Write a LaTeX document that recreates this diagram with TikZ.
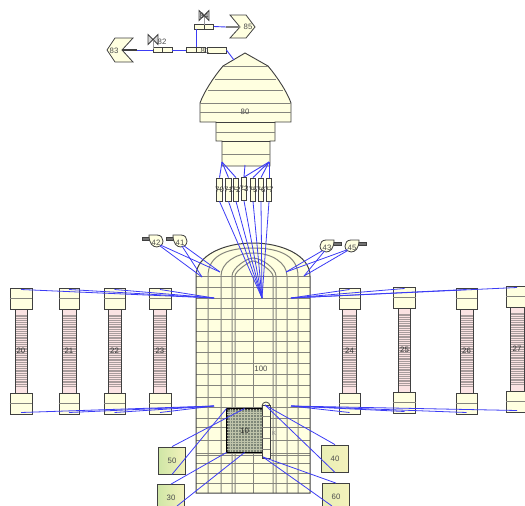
\documentclass[tikz,border=0pt]{standalone}
\usepackage{fontspec}
\setmainfont{Liberation Sans}
\usepackage{xcolor}
\usepackage{tikz}
\usetikzlibrary{arrows.meta,shapes,patterns}
\definecolor{cream}{HTML}{FFFFE0}
\definecolor{wire}{HTML}{3C3CF5}
\definecolor{edge}{HTML}{404040}
\definecolor{mesh}{HTML}{85857D}
\definecolor{tubepink}{HTML}{FBE3E3}
\definecolor{tubeline}{HTML}{A89C9C}
\definecolor{coregrey}{HTML}{7F8878}
\definecolor{coreline}{HTML}{BFC4AA}
\definecolor{leafa}{HTML}{CFE6A6}
\definecolor{leafb}{HTML}{F4F2BC}
\tikzset{
lbl/.style={font=\fontsize{7.8}{8}\selectfont,text=black!70,inner sep=0pt},
part/.style={draw=edge,fill=cream,line width=.8pt,inner sep=0pt},
pipe/.style={part,minimum width=19pt,minimum height=5pt},
gas/.style={draw=wire,line width=.9pt},
fine/.style={draw=wire,line width=.8pt},
feed/.style={part,left color=leafa,right color=leafb,minimum width=27pt,minimum height=27pt}
}
\begin{document}
\begin{tikzpicture}[x=1pt,y=-1pt,>=stealth]
\useasboundingbox(0,0)rectangle(525,506);
\clip(0,0)rectangle(525,506);
\path[fill=cream](196,493)--(196,276)..controls(196,255)and(225,243)..(253,243)..controls(281,243)and(310,255)..(310,276)--(310,493)--cycle;
\foreach \y in {276,287,298,308,319,331,341,352,363,374,385,397,407,418,427,440,453,455,463,473,483}
\draw[mesh,line width=1pt](196,\y)--(310,\y);
\foreach \x in {253}
\draw[mesh,line width=1pt](\x,276)--(\x,493);
\foreach \xa/\xb/\yt in {208/298/248,221/287/253,232/276/258,235/273/261}{
\draw[mesh,line width=1pt](\xa,493)--(\xa,276)..controls(\xa,\yt+10)and(\xa+15,\yt)..(253,\yt)..controls(\xb-15,\yt)and(\xb,\yt+10)..(\xb,276)--(\xb,493);
}
\draw[edge,line width=1pt](196,493)--(196,276)..controls(196,255)and(225,243)..(253,243)..controls(281,243)and(310,255)..(310,276)--(310,493)--cycle;
\node[lbl](n100)at(261,369){100};

\node[part,fill=coregrey,minimum width=35pt,minimum height=43pt,line width=1pt](core)at(244.5,430.5){};
\foreach \k in {1,...,11}
\draw[coreline,line width=.7pt](227+2.9*\k,409)--(227+2.9*\k,452);
\foreach \k in {1,...,14}
\draw[coreline,line width=.7pt](227,409+2.9*\k)--(262,409+2.9*\k);
\draw[black,line width=1pt](core.north west)rectangle(core.south east);
\node[lbl,text=black!85](n10)at(core.center){10};
\draw[part](266,406)circle(4pt);
\node[part,minimum width=8pt,minimum height=53pt](rod)at(266,431.5){};
\foreach \y in {416,427,438,449}
\draw[mesh](262,\y)--(270,\y);
\node[lbl,font=\fontsize{6}{6}\selectfont,text=black!50](nk)at(274,433){K};

\node[feed](b50)at(172,460.5){};\node[lbl]at(b50){50};
\node[feed](b30)at(171,498){};\node[lbl]at(b30){30};
\node[feed,left color=leafb!70!leafa,right color=leafb](b40)at(335,458.5){};\node[lbl]at(b40){40};
\node[feed,left color=leafb!70!leafa,right color=leafb](b60)at(336,497){};\node[lbl]at(b60){60};

\foreach \n/\x/\t/\w/\r in {20/21/288/22/12,21/69/288/20/14,22/114.5/288/21/13,23/160/288/22/13,24/349.5/288/21/14,25/404.5/287/22/12,26/466.5/288/21/13,27/517/286/21/14}{
\pgfmathsetmacro{\ya}{\t+21}
\pgfmathsetmacro{\yb}{\t+105}
\pgfmathsetmacro{\ym}{\t+63}
\pgfmathsetmacro{\yc}{\t+115.5}
\pgfmathsetmacro{\yd}{\t+10.5}
\draw[edge,fill=tubepink,line width=.8pt](\x-\r/2,\ya)rectangle(\x+\r/2,\yb);
\foreach \k in {7,9.2,...,78}
\draw[tubeline,line width=1.2pt](\x-\r/2,\ya+\k)--(\x+\r/2,\ya+\k);
\draw[edge,line width=.9pt](\x-\r/2,\ya)rectangle(\x+\r/2,\yb);
\node[part,minimum width=\w pt,minimum height=21pt](top\n)at(\x,\yd){};
\node[part,minimum width=\w pt,minimum height=21pt](bot\n)at(\x,\yc){};
\draw[mesh,line width=.7pt](top\n.west)--(top\n.east);
\draw[mesh,line width=.7pt](bot\n.west)--(bot\n.east);
\node[lbl,text=black!80](n\n)at(\x,\ym){\n};
}

\draw[fill=cream,draw=edge,line width=.9pt](245,53)--(268,66)..controls(278,78)and(287,92)..(291,103)--(291,122)--(275,122)--(275,141)--(270,141)--(270,166)--(222,166)--(222,141)--(216,141)--(216,122)--(200,122)--(200,103)..controls(204,92)and(213,78)..(223,66)--cycle;
\foreach \xa/\xb/\y in {223/268/66,215/276/79,208/283/90,200/291/103,200/291/112,216/275/132,222/270/154}
\draw[mesh,line width=.7pt](\xa,\y)--(\xb,\y);
\draw[edge,line width=.9pt](216,122)--(275,122)(222,141)--(270,141);
\node[lbl](n80)at(245,112){80};

\foreach \n/\x/\y in {70/219.5/189.5,71/228.5/189.5,72/236/189.5,73/244/189,75/253/189.5,76/261/189.5,77/269/189.5}{
\node[part,minimum width=5.5pt,minimum height=23pt](s\n)at(\x,\y){};
\draw[mesh](s\n.west)--(s\n.east);
\node[lbl,text=black!80](n\n)at(\x,\y){\n};
}

\foreach \n/\x/\y/\s in {42/156/241/1,41/180/241/1,43/327/246/-1,45/352/246/-1}{
\begin{scope}[shift={(\x,\y)},xscale=\s]
\draw[edge,fill=black!55](-14,-4)rectangle(-6,-1);
\draw[edge,fill=cream,line width=.8pt](-7,-6)--(1,-6)..controls(5,-6)and(7,-3)..(7,0)..controls(7,4)and(4,6)..(1,6)..controls(-3,6)and(-7,3)..(-7,-6)--cycle;
\end{scope}
\node[lbl,text=black!70](n\n)at(\x,\y+2){\n};
}

\draw[part](107,50)--(115,38)--(133,38)--(122,50)--(133,62)--(115,62)--cycle;
\node[lbl](n83)at(114,51){83};
\draw[part](230,15)--(246,15)--(255,27)--(246,38)--(230,38)--(240,27)--cycle;
\node[lbl](n85)at(248,27){85};
\node[pipe](p82)at(162.5,50){};
\node[pipe](p81)at(196,50){};
\node[pipe,minimum height=6pt](p84)at(216.5,50){};
\node[pipe](p86)at(204,26.5){};
\foreach \p in {p82,p81,p86}
\draw[edge](\p.north)--(\p.south);
\coordinate(s83)at(123,50);
\coordinate(s85)at(240,27);
\coordinate(m83)at(137,50);
\coordinate(m85)at(226,27);
\coordinate(hat)at(234,60);
\draw[line width=1.4pt,black!75](s83)--(m83);
\draw[line width=1.4pt,black!50](s85)--(m85);
\draw[gas](m83)--(p82.west);
\draw[gas](p82.east)--(p81.west);
\draw[gas](p86.east)--(m85);
\draw[gas](p81.north)--(p81.north|-p86.south);
\draw[gas](p84.east)--(hat);
\foreach \x/\y/\p in {153/39.5/p82,204/15.5/p86}{
\draw[edge,line width=.8pt,fill=black!15](\x-5,\y-5)--(\x+5,\y+5)--(\x+5,\y-5)--(\x-5,\y+5)--cycle;
\draw[black!40](\x,\y)--(\x,\y+9);
}
\node[lbl](n82)at(162,42){82};
\node[lbl](n81)at(205,50.5){81};
\node[lbl,text=black!80](n84)at(204,15.5){84};

\coordinate(hubl)at(222,162);
\coordinate(hubr)at(269,162);
\coordinate(hubm)at(245,165);
\coordinate(fan)at(262,298);
\foreach \n in {70,71,72}
\draw[gas](hubl)--(s\n.north);
\foreach \n in {73,75,76,77}
\draw[gas](hubr)--(s\n.north);
\draw[gas](hubm)--(s73.north);
\foreach \n in {70,71,72,73,75,76,77}
\draw[fine](s\n.south)--(fan);

\coordinate(ringl)at(202,277);
\coordinate(ringm)at(220,272);
\coordinate(ringn)at(286,272);
\coordinate(ringr)at(304,276);
\foreach \n in {42,41}{
\draw[fine](n\n)--(ringl);
\draw[fine](n\n)--(ringm);
}
\foreach \n in {43,45}{
\draw[fine](n\n)--(ringn);
\draw[fine](n\n)--(ringr);
}

\coordinate(tl)at(214,298);
\coordinate(tr)at(291,298);
\coordinate(ul)at(214,406);
\coordinate(ur)at(291,406);
\foreach \n in {20,21,22,23}{
\draw[fine]([yshift=9pt]top\n.center)--(tl);
\draw[fine]([yshift=-9pt]bot\n.center)--(ul);
}
\foreach \n in {24,25,26,27}{
\draw[fine]([yshift=9pt]top\n.center)--(tr);
\draw[fine]([yshift=-9pt]bot\n.center)--(ur);
}

\coordinate(rodt)at(265,405);
\coordinate(rodb)at(263,457);
\coordinate(off30)at(177,506);
\coordinate(off60)at(332,506);
\draw[fine](b50.north)--(core.north);
\draw[fine](b50.south)--(core.north west);
\draw[fine](b30.north)--(core.south west);
\draw[fine](off30)--(core.south);
\draw[fine](b40.north)--(rodt);
\draw[fine](b40.south)--(rodt);
\draw[fine](b60.north)--(rodb);
\draw[fine](off60)--(rodb);
\end{tikzpicture}
\end{document}
